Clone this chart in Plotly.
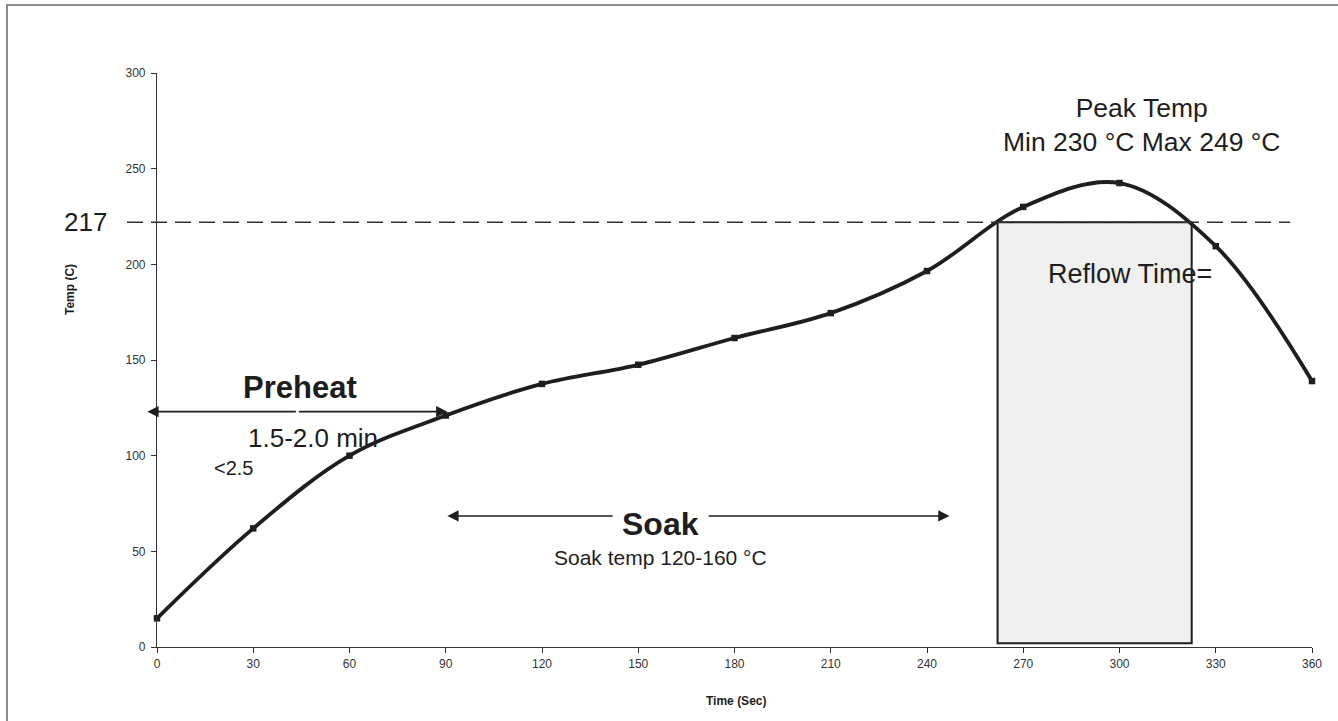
import plotly.graph_objects as go

# ---- data ----
time_sec = [0, 30, 60, 90, 120, 150, 180, 210, 240, 270, 300, 330, 360]
temp_c = [15, 62, 100, 121, 137.5, 147.5, 161.5, 174.5, 196.5, 230, 242.5, 209.5, 139]
x_ticks = [0, 30, 60, 90, 120, 150, 180, 210, 240, 270, 300, 330, 360]
y_ticks = [0, 50, 100, 150, 200, 250, 300]
liquidus_label = "217"
liquidus_line_y = 222
reflow_start, reflow_end = 262, 322.5
reflow_bottom = 2
preheat_span = [-3, 90.5]
preheat_arrow_y = 123
soak_span = [90.5, 247]
soak_gap = [142.5, 171.5]
soak_arrow_y = 68.5

FONT = "Arial, Liberation Sans, sans-serif"
INK = "#1e1e1e"

fig = go.Figure()

# reflow box
fig.add_shape(type="rect", xref="x", yref="y",
              x0=reflow_start, x1=reflow_end, y0=reflow_bottom, y1=liquidus_line_y,
              fillcolor="#eff0ef", line=dict(color=INK, width=2), layer="below")

# dashed 217 line (extends slightly into left margin)
fig.add_shape(type="line", xref="paper", yref="y", x0=-0.026, x1=0.981,
              y0=liquidus_line_y, y1=liquidus_line_y,
              line=dict(color="#333333", width=1.5, dash="16px,8px"))

# outer border (partially visible)
fig.add_shape(type="rect", xref="paper", yref="paper",
              x0=-0.1299, x1=1.08, y0=-0.25, y1=1.1185,
              line=dict(color="#666666", width=1.5), fillcolor="rgba(0,0,0,0)")

fig.add_trace(go.Scatter(
    x=time_sec, y=temp_c, mode="lines+markers",
    line=dict(color=INK, width=3.8, shape="spline", smoothing=1.0),
    marker=dict(symbol="square", size=6.5, color=INK),
    cliponaxis=False, showlegend=False))

def arrow(x_tip, x_tail, y):
    fig.add_annotation(x=x_tip, y=y, ax=x_tail, ay=y, xref="x", yref="y",
                       axref="x", ayref="y", text="", showarrow=True,
                       arrowhead=2, arrowsize=1.4, arrowwidth=1.6, arrowcolor=INK)

mid_pre = (preheat_span[0] + preheat_span[1]) / 2
arrow(preheat_span[0], mid_pre, preheat_arrow_y)
arrow(preheat_span[1], mid_pre, preheat_arrow_y)
arrow(soak_span[0], soak_gap[0], soak_arrow_y)
arrow(soak_span[1], soak_gap[1], soak_arrow_y)

def text(x, y, s, size, bold=False, **kw):
    fig.add_annotation(x=x, y=y, xref="x", yref="y", text=f"<b>{s}</b>" if bold else s,
                       showarrow=False, xanchor="center", yanchor="middle",
                       font=dict(family=FONT, size=size, color=INK), **kw)

text(44.6, 135.5, "Preheat", 31, bold=True)
text(48.6, 109.2, "1.5-2.0 min", 26)
text(23.7, 93.6, "&lt;2.5", 20)
text(156.8, 64.3, "Soak", 32, bold=True)
text(156.8, 47.0, "Soak temp 120-160 °C", 21)
text(306.8, 272.8, "Peak Temp<br>Min 230 °C Max 249 °C", 26.5)
text(303.3, 195, "Reflow Time=", 27)

fig.add_annotation(x=-0.0623, y=liquidus_line_y, xref="paper", yref="y", text=liquidus_label,
                   showarrow=False, xanchor="center", yanchor="middle",
                   font=dict(family=FONT, size=26, color=INK))

# axis titles
fig.add_annotation(x=-0.0753, y=0.622, xref="paper", yref="paper", text="<b>Temp (C)</b>",
                   textangle=-90, showarrow=False, xanchor="center", yanchor="middle",
                   font=dict(family=FONT, size=12, color=INK))
fig.add_annotation(x=0.501, y=-0.094, xref="paper", yref="paper", text="<b>Time (Sec)</b>",
                   showarrow=False, xanchor="center", yanchor="middle",
                   font=dict(family=FONT, size=12, color=INK))

axis_style = dict(showline=True, linecolor="#333333", linewidth=1.2, ticks="outside",
                  ticklen=5, tickcolor="#333333", showgrid=False, zeroline=False,
                  tickfont=dict(family=FONT, size=12, color="#333333"))
fig.update_xaxes(range=[0, 360], tickvals=x_ticks, **axis_style)
fig.update_yaxes(range=[0, 300], tickvals=y_ticks, ticklabelstandoff=3, **axis_style)

fig.update_layout(width=1338, height=721, plot_bgcolor="white", paper_bgcolor="white",
                  margin=dict(l=157, r=26, t=73, b=74), showlegend=False)

# remove the default 8px page margin so the figure fills the window exactly
fig.write_html("out.html", config={"displayModeBar": False},
               post_script="document.body.style.margin='0';")
